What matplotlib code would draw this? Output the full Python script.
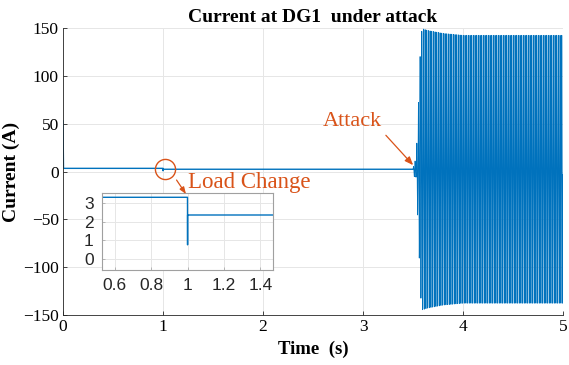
import numpy as np
import matplotlib.pyplot as plt

# ---- values ----
t_end = 5.0
f_grid = 60.0                     # oscillation frequency after attack (Hz)
level_t = [0.0, 1.0, 5.0]         # steady current levels (A)
level_v = [3.3, 2.35, 2.35]
start_spike = 53.0                # inrush at t=0
load_dip = 0.75                   # dip at load change (t=1)
env_t = [3.50, 3.515, 3.53, 3.545, 3.56, 3.575, 3.59, 3.65, 3.8, 4.0, 5.0]
env_a = [0.0, 9.0, 8.0, 45.0, 85.0, 130.0, 147.0, 145.0, 142.0, 140.0, 140.0]

xticks = [0, 1, 2, 3, 4, 5]
yticks = [-150, -100, -50, 0, 50, 100, 150]
ins_xticks = [0.6, 0.8, 1.0, 1.2, 1.4]
ins_xlabels = ["0.6", "0.8", "1", "1.2", "1.4"]
ins_yticks = [0, 1, 2, 3]

blue = "#0072BD"
orange = "#D95319"

# ---- build the trace ----
t = np.arange(0, t_end, 1e-4)
i = np.where(t < level_t[1], level_v[0], level_v[1])
i[t < 0.004] = np.interp(t[t < 0.004], [0, 0.004], [start_spike, level_v[0]])
m = (t >= 1.0) & (t < 1.0005)
i[m] = load_dip
env = np.interp(t, env_t, env_a, left=0.0)
i = i + env * np.sin(2 * np.pi * f_grid * (t - env_t[0]))

pre = t <= env_t[0]
post = t >= env_t[0]

plt.rcParams['font.family'] = ['Liberation Serif']
fig = plt.figure(figsize=(5.69, 3.65), dpi=100)
ax = fig.add_axes([63/569, 50/365, 500/569, 287/365])
ax.plot(t[pre], i[pre], color=blue, lw=1.0)
ax.plot(t[post], i[post], color=blue, lw=0.6)
ax.set_xlim(0, 5)
ax.set_ylim(-150, 150)
ax.set_xticks(xticks)
ax.set_yticks(yticks)
ax.grid(True, color="#e6e6e6", lw=0.7)
ax.set_axisbelow(True)
for s in ["top", "right"]:
    ax.spines[s].set_visible(False)
for s in ["left", "bottom"]:
    ax.spines[s].set_color("#262626")
    ax.spines[s].set_linewidth(0.6)
ax.tick_params(direction="in", length=3, width=0.6, labelsize=12.5, color="#262626", pad=3)
ax.set_title("Current at DG1  under attack", fontsize=14, fontweight="bold", pad=4)
ax.set_xlabel("Time  (s)", fontsize=13.5, fontweight="bold", labelpad=4)
ax.set_ylabel("Current (A)", fontsize=14, fontweight="bold", labelpad=2)

# load change circle + label
ax.plot([1.015], [2.6], "o", ms=14.5, mfc="none", mec=orange, mew=1.0)
ax.text(1.25, -12, "Load Change", color=orange, fontsize=16.5, va="center", ha="left")
ax.text(2.6, 52, "Attack", color=orange, fontsize=16, va="center", ha="left")
ax.annotate("", xy=(3.52, 4.5), xytext=(3.21, 40),
            arrowprops=dict(arrowstyle="-|>,head_length=0.5,head_width=0.2", color=orange, lw=0.9))

# inset
axins = fig.add_axes([102/569, 95/365, 171/569, 77/365])
axins.plot(t, i, color=blue, lw=1.0)
axins.set_xlim(0.53, 1.47)
axins.set_ylim(-0.6, 3.53)
axins.set_xticks(ins_xticks)
axins.set_xticklabels(ins_xlabels)
axins.set_yticks(ins_yticks)
axins.grid(True, color="#e6e6e6", lw=0.7)
axins.set_axisbelow(True)
for s in axins.spines.values():
    s.set_color("#a0a0a0")
    s.set_linewidth(0.8)
axins.tick_params(direction="in", length=2, width=0.5, color="#a0a0a0", pad=6)
for lab in axins.get_xticklabels() + axins.get_yticklabels():
    lab.set_family("Liberation Sans")
    lab.set_fontsize(12.5)
    lab.set_color("#262626")
axins.annotate("", xy=(1.0, 3.35), xycoords=axins.transData,
               xytext=(1.12, -6.5), textcoords=ax.transData,
               arrowprops=dict(arrowstyle="-|>,head_length=0.4,head_width=0.15", color=orange, lw=0.9),
               annotation_clip=False)

fig.savefig("out.png", dpi=100)
